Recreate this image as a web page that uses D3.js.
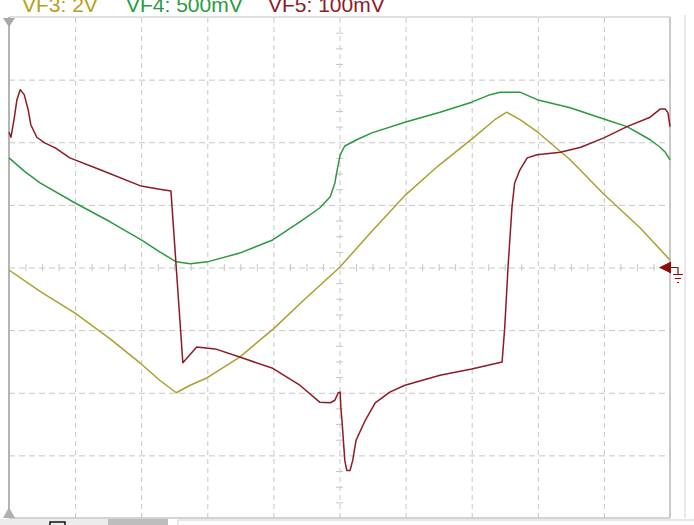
<!DOCTYPE html>
<html><head><meta charset="utf-8">
<script src="https://cdn.jsdelivr.net/npm/d3@7"></script>
<style>html,body{margin:0;padding:0;background:#fff;overflow:hidden}</style>
</head><body>
<svg id="c" width="694" height="525"></svg>
<script>
// Data in screen divisions: [time div, value div]
const vf3 = [[0,-0.04],[0.47,-0.38],[1.00,-0.73],[1.53,-1.14],[2.00,-1.54],[2.28,-1.80],[2.53,-2.00],[2.74,-1.88],[3.00,-1.76],[3.49,-1.43],[4.00,-0.98],[4.49,-0.49],[5.00,0.00],[5.49,0.58],[6.00,1.16],[6.49,1.62],[7.00,2.05],[7.35,2.36],[7.53,2.48],[7.73,2.36],[8.00,2.16],[8.49,1.72],[9.00,1.17],[9.55,0.63],[10.00,0.12]];
const vf4 = [[0,1.75],[0.24,1.53],[0.47,1.35],[1.00,1.03],[1.53,0.73],[2.00,0.44],[2.28,0.25],[2.53,0.09],[2.74,0.06],[3.00,0.09],[3.49,0.23],[3.99,0.44],[4.40,0.73],[4.70,0.95],[4.86,1.13],[4.93,1.35],[4.96,1.53],[5.01,1.80],[5.08,1.94],[5.26,2.04],[5.49,2.15],[5.99,2.32],[6.52,2.48],[7.00,2.64],[7.28,2.76],[7.43,2.80],[7.73,2.80],[7.99,2.68],[8.49,2.55],[9.00,2.37],[9.35,2.25],[9.70,2.04],[9.85,1.92],[9.93,1.84],[10,1.72]];
const vf5 = [[0,2.16],[0.03,2.08],[0.08,2.39],[0.12,2.68],[0.17,2.84],[0.23,2.76],[0.29,2.52],[0.33,2.28],[0.42,2.08],[0.54,1.99],[0.70,1.91],[0.92,1.75],[1.38,1.56],[2.00,1.30],[2.28,1.25],[2.45,1.22],[2.63,-1.52],[2.84,-1.27],[3.12,-1.30],[3.49,-1.43],[3.99,-1.61],[4.40,-1.88],[4.70,-2.15],[4.86,-2.16],[4.93,-2.12],[4.98,-2.00],[5.01,-1.99],[5.02,-2.23],[5.04,-2.48],[5.08,-3.08],[5.11,-3.24],[5.16,-3.24],[5.20,-3.08],[5.25,-2.76],[5.39,-2.44],[5.54,-2.16],[5.76,-1.99],[5.99,-1.88],[6.52,-1.72],[7.00,-1.62],[7.46,-1.51],[7.50,-0.95],[7.55,0.01],[7.61,0.97],[7.65,1.35],[7.73,1.56],[7.84,1.75],[7.99,1.80],[8.34,1.84],[8.65,1.92],[9.00,2.07],[9.35,2.25],[9.70,2.40],[9.85,2.53],[9.93,2.53],[9.97,2.47],[10,2.25]];
const legendLabels = ["VF3: 2V", "VF4: 500mV", "VF5: 100mV"];
const xDivs = d3.range(0, 11);
const yDivs = d3.range(-4, 5);
const xMinor = d3.range(0, 40.01, 1).map(d => d / 4);
const yMinor = d3.range(-16, 16.01, 1).map(d => d / 4);

const svg = d3.select("#c");
const L = 9, R = 670, T = 17, B = 518;
const x = d3.scaleLinear().domain([0, 10]).range([L, R]);
const y = d3.scaleLinear().domain([-4, 4]).range([B, T]);
const gridCol = "#c6c6c6";

// side panel line
svg.append("line").attr("x1", 685).attr("x2", 685).attr("y1", 15).attr("y2", 518)
  .attr("stroke", "#e2e2e2").attr("stroke-width", 1.5);

// grid using axes
const gx = svg.append("g").attr("transform", `translate(0,${B})`)
  .call(d3.axisBottom(x).tickValues(xDivs.slice(1, -1)).tickSize(-(B - T)).tickFormat(""));
gx.select(".domain").remove();
gx.selectAll("line").attr("stroke", gridCol).attr("stroke-dasharray", "5,4");
const gy = svg.append("g").attr("transform", `translate(${L},0)`)
  .call(d3.axisLeft(y).tickValues(yDivs.slice(1, -1)).tickSize(-(R - L)).tickFormat(""));
gy.select(".domain").remove();
gy.selectAll("line").attr("stroke", gridCol).attr("stroke-dasharray", "6,4");

// minor ticks on center axes
const mx = svg.append("g").attr("transform", `translate(0,${y(0) - 3.5})`)
  .call(d3.axisBottom(x).tickValues(xMinor.filter(d => d % 1 !== 0)).tickSize(7).tickFormat(""));
mx.select(".domain").remove();
mx.selectAll("line").attr("stroke", gridCol);
const my = svg.append("g").attr("transform", `translate(${x(5) + 3.5},0)`)
  .call(d3.axisLeft(y).tickValues(yMinor.filter(d => d % 1 !== 0)).tickSize(7).tickFormat(""));
my.select(".domain").remove();
my.selectAll("line").attr("stroke", gridCol);

// frame
svg.append("line").attr("x1", L).attr("x2", R).attr("y1", T).attr("y2", T).attr("stroke", "#d6d6d6").attr("stroke-width", 1.5);
svg.append("line").attr("x1", L).attr("x2", R).attr("y1", B).attr("y2", B).attr("stroke", "#c4c4c4").attr("stroke-width", 1.5);
svg.append("line").attr("x1", R).attr("x2", R).attr("y1", T).attr("y2", B).attr("stroke", "#c8c8c8").attr("stroke-width", 2);
svg.append("line").attr("x1", L).attr("x2", L).attr("y1", T).attr("y2", B).attr("stroke", "#b4b4b4").attr("stroke-width", 2);

// left markers
svg.append("path").attr("d", `M${L - 6},${T + 1}L${L + 6},${T + 1}L${L},${T + 10}Z`).attr("fill", "#a8a8a8");
svg.append("path").attr("d", `M${L - 6},${B}L${L + 6},${B}L${L},${B - 11}Z`).attr("fill", "#b0b0b0");

// traces
const line = d3.line().x(d => x(d[0])).y(d => y(d[1]));
const series = [
  {data: vf3, color: "#aaa030"},
  {data: vf4, color: "#2a9a3c"},
  {data: vf5, color: "#8e1a24"}
];
series.forEach(s => {
  svg.append("path").datum(s.data).attr("d", line)
    .attr("fill", "none").attr("stroke", s.color).attr("stroke-width", 1.5)
    .attr("stroke-linejoin", "round");
});

// ground marker
const gy0 = y(0);
const gc = "#8b0d0d";
svg.append("path").attr("d", `M${R - 11},${gy0}L${R + 1},${gy0 - 6}L${R + 1},${gy0 + 6}Z`).attr("fill", gc);
svg.append("path").attr("d", `M${R + 1},${gy0}H${R + 8}V${gy0 + 7}M${R + 3},${gy0 + 7}H${R + 13}M${R + 5},${gy0 + 11}H${R + 11}M${R + 7},${gy0 + 15}H${R + 9}`)
  .attr("fill", "none").attr("stroke", gc).attr("stroke-width", 1.2);

// legend
const legendX = [22, 126, 268];
const legendCol = ["#b3a222", "#2a9a3c", "#8e1a24"];
legendLabels.forEach((t, i) => {
  svg.append("text").attr("x", legendX[i]).attr("y", 11.5).text(t)
    .attr("font-family", "Liberation Sans, Arial, sans-serif").attr("font-size", 21)
    .attr("fill", legendCol[i]);
});

// bottom tabs
svg.append("rect").attr("x", 0).attr("y", 519).attr("width", 108).attr("height", 6).attr("fill", "#ececec");
svg.append("rect").attr("x", 108).attr("y", 519).attr("width", 60).attr("height", 6).attr("fill", "#bdbdbd");
svg.append("rect").attr("x", 50).attr("y", 522).attr("width", 15).attr("height", 4).attr("fill", "none").attr("stroke", "#111").attr("stroke-width", 1.5);
svg.append("rect").attr("x", 178).attr("y", 520).attr("width", 520).attr("height", 8).attr("fill", "#fff").attr("stroke", "#d0d0d0");
</script>
</body></html>
